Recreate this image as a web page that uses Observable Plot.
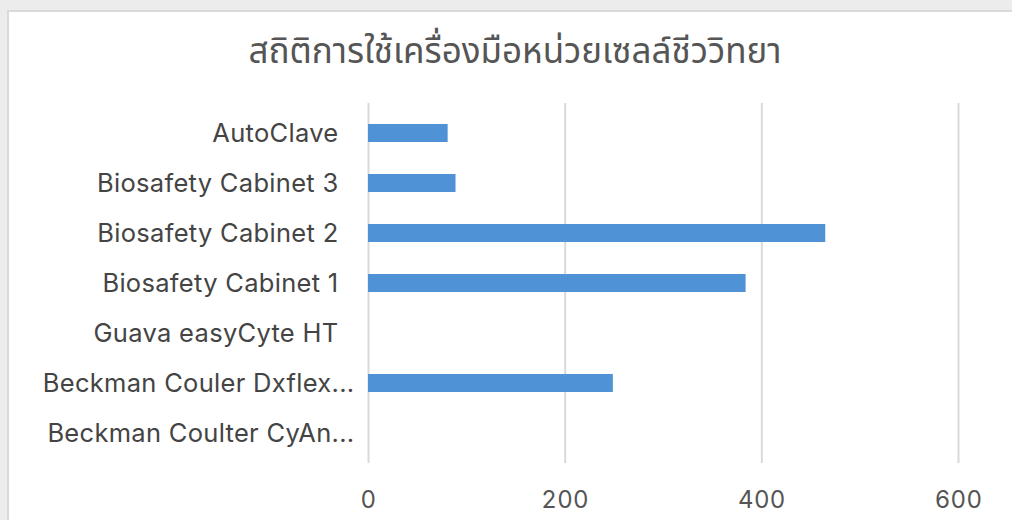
<!DOCTYPE html>
<html>
<head>
<meta charset="utf-8">
<script src="https://cdn.jsdelivr.net/npm/d3@7"></script>
<script src="https://cdn.jsdelivr.net/npm/@observablehq/plot@0.6"></script>
<style>
  html, body { margin: 0; padding: 0; background: #ececec; }
  #page { position: relative; width: 1012px; height: 520px; overflow: hidden; background: #ececec; }
  #card { position: absolute; left: 7px; top: 10px; width: 1010px; height: 520px; background: #fff; border-left: 2px solid #dadada; border-top: 2px solid #dadada; }
  #title { position: absolute; left: 0; top: 26px; width: 1030px; text-align: center; font-family: "Noto Sans Thai", "Noto Sans", "DejaVu Sans", sans-serif; font-size: 35px; color: #555; letter-spacing: 0px; }
  #chart { position: absolute; left: 0; top: 90px; }
  #chart svg text { letter-spacing: 0.3px; }
</style>
</head>
<body>
<div id="page">
  <div id="card"></div>
  <div id="title">สถิติการใช้เครื่องมือหน่วยเซลล์ชีววิทยา</div>
  <div id="chart"></div>
</div>
<script>
const categories = [
  "AutoClave",
  "Biosafety Cabinet 3",
  "Biosafety Cabinet 2",
  "Biosafety Cabinet 1",
  "Guava easyCyte HT",
  "Beckman Couler Dxflex...",
  "Beckman Coulter CyAn..."
];
const values = [81, 89, 465, 384, 0, 249, 0];
const xTicks = [0, 200, 400, 600];

const data = categories.map((c, i) => ({ name: c, value: values[i] }));
const fullLabels = categories.filter(c => !c.endsWith("..."));
const cutLabels = categories.filter(c => c.endsWith("..."));

const chart = Plot.plot({
  width: 1012,
  height: 430,
  marginLeft: 368,
  marginRight: 54,
  marginTop: 15,
  marginBottom: 60,
  style: { fontFamily: "Inter, 'Liberation Sans', sans-serif", color: "#4a4a4a", background: "transparent" },
  x: { domain: [0, 600], ticks: xTicks, label: null },
  y: { domain: categories, label: null, paddingInner: 0.645, paddingOuter: 0.3225 },
  marks: [
    Plot.ruleX(xTicks, { stroke: "#d9d9d9", strokeWidth: 2, insetTop: -2, insetBottom: -3 }),
    Plot.barX(data, { x: "value", y: "name", fill: "#4f92d6" }),
    Plot.axisX({ ticks: xTicks, tickSize: 0, tickPadding: 30, fontSize: 24, fill: "#555", label: null }),
    Plot.axisY(fullLabels, { tickSize: 0, tickPadding: 30, fontSize: 25.5, fill: "#444", label: null }),
    Plot.axisY(cutLabels, { tickSize: 0, tickPadding: 30, dx: 16, fontSize: 25.5, fill: "#444", label: null })
  ]
});
document.getElementById("chart").appendChild(chart);
</script>
</body>
</html>
